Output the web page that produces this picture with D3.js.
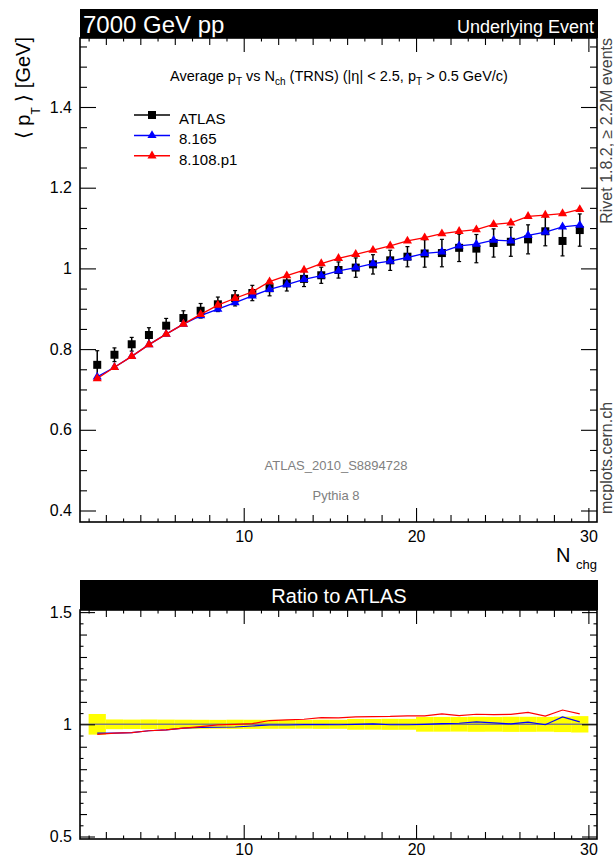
<!DOCTYPE html>
<html lang="en">
<head>
<meta charset="UTF-8">
<title>Average pT vs Nch (TRNS)</title>
<style>
  body { margin: 0; background: #fff; }
  svg { display: block; font-family: "Liberation Sans", Arial, sans-serif; }
</style>
</head>
<body>
<svg id="chart"></svg>
<script src="https://d3js.org/d3.v7.min.js"></script>
<script>
// bin centres in N_chg
var nch = [1.5, 2.5, 3.5, 4.5, 5.5, 6.5, 7.5, 8.5, 9.5, 10.5,
           11.5, 12.5, 13.5, 14.5, 15.5, 16.5, 17.5, 18.5, 19.5, 20.5,
           21.5, 22.5, 23.5, 24.5, 25.5, 26.5, 27.5, 28.5, 29.5];
// ATLAS data <pT> [GeV] and its error
var atlas = [0.761, 0.786, 0.812, 0.835, 0.858, 0.877, 0.895, 0.911, 0.926, 0.939,
             0.951, 0.963, 0.974, 0.983, 0.996, 1.002, 1.010, 1.020, 1.029, 1.037,
             1.038, 1.051, 1.049, 1.063, 1.066, 1.072, 1.092, 1.068, 1.095];
var atlasErr = [0.035, 0.017, 0.017, 0.018, 0.018, 0.018, 0.018, 0.018, 0.019, 0.019,
                0.019, 0.019, 0.019, 0.020, 0.020, 0.024, 0.024, 0.025, 0.025, 0.034,
                0.034, 0.034, 0.035, 0.035, 0.036, 0.036, 0.036, 0.037, 0.040];
// Pythia 8.165 (blue)
var py8165 = [0.731, 0.755, 0.782, 0.811, 0.837, 0.862, 0.883, 0.899, 0.915, 0.932,
              0.948, 0.960, 0.973, 0.982, 0.994, 1.002, 1.012, 1.018, 1.027, 1.037,
              1.041, 1.056, 1.060, 1.070, 1.068, 1.082, 1.090, 1.103, 1.107];
// Pythia 8.108.p1 (red)
var py8108 = [0.727, 0.755, 0.782, 0.811, 0.837, 0.862, 0.886, 0.909, 0.926, 0.942,
              0.967, 0.982, 0.996, 1.012, 1.025, 1.035, 1.045, 1.056, 1.068, 1.076,
              1.086, 1.092, 1.096, 1.109, 1.113, 1.129, 1.132, 1.136, 1.146];

var xTicks = [10, 20, 30];
var yTicks = [0.4, 0.6, 0.8, 1, 1.2, 1.4];
var ratioTicks = [0.5, 1, 1.5];
var legendNames = ['ATLAS', '8.165', '8.108.p1'];

var W = 614, H = 859;
var left = 80, right = 597;
var mainTop = 38, mainBottom = 522;
var ratioTop = 610, ratioBottom = 839;

var svg = d3.select('#chart').attr('width', W).attr('height', H);

var x = d3.scaleLinear().domain([0.5, 30.5]).range([left, right]);
var y = d3.scaleLinear().domain([0.3715, 1.571]).range([mainBottom, mainTop]);
var yr = d3.scaleLinear().domain([0.4889, 1.5094]).range([ratioBottom, ratioTop]);

// ---- helpers for ROOT-like inward ticks
function ticks(g, axisFn, scale, values, size, withLabels, pad) {
    var ax = axisFn(scale).tickValues(values).tickSize(size).tickPadding(pad || 0)
        .tickFormat(withLabels ? d3.format('~g') : '');
    g.call(ax);
    g.select('.domain').remove();
    g.attr('font-family', null).attr('font-size', 16);
    g.selectAll('line').attr('stroke', '#000').attr('stroke-width', 1.1);
    g.selectAll('text').attr('fill', '#000');
}

function frameAxes(yScale, yMajor, yMinor, yMid, top, bottom, majorLen, labelPad) {
    var xs = [[xTicks, 14, true], [[2,4,6,8,12,14,16,18,22,24,26,28], 7, false],
              [[1,3,5,7,9,11,13,15,17,19,21,23,25,27,29], 3.5, false]];
    xs.forEach(function (t) {
        ticks(svg.append('g').attr('transform', 'translate(0,' + bottom + ')'),
              d3.axisBottom, x, t[0], -t[1], t[2], labelPad);
        ticks(svg.append('g').attr('transform', 'translate(0,' + top + ')'),
              d3.axisTop, x, t[0], -t[1], false);
    });
    var ys = [[yMajor, majorLen, true], [yMinor, 7, false]];
    if (yMid) ys.push([yMid, 3.5, false]);
    ys.forEach(function (t) {
        ticks(svg.append('g').attr('transform', 'translate(' + left + ',0)'),
              d3.axisLeft, yScale, t[0], -t[1], t[2], 8);
        ticks(svg.append('g').attr('transform', 'translate(' + right + ',0)'),
              d3.axisRight, yScale, t[0], -t[1], false);
    });
    svg.append('rect').attr('x', left).attr('y', top)
        .attr('width', right - left).attr('height', bottom - top)
        .attr('fill', 'none').attr('stroke', '#000').attr('stroke-width', 1.6);
}

function sub(textSel, parts) {
    parts.forEach(function (p) {
        var t = textSel.append('tspan').text(p[0]);
        if (p[1]) t.attr('font-size', p[1]);
        if (p[2]) t.attr('dy', p[2]);
    });
}

// ---- main panel
svg.append('rect').attr('x', left).attr('y', 9).attr('width', right - left + 1).attr('height', 29)
    .attr('fill', '#000');
svg.append('text').attr('x', 83).attr('y', 32.5).attr('fill', '#fff').attr('font-size', 24)
    .text('7000 GeV pp');
svg.append('text').attr('x', 594).attr('y', 33).attr('fill', '#fff').attr('font-size', 18)
    .attr('text-anchor', 'end').text('Underlying Event');

var yMinorMain = [0.45, 0.5, 0.55, 0.65, 0.7, 0.75, 0.85, 0.9, 0.95, 1.05, 1.1, 1.15,
                  1.25, 1.3, 1.35, 1.45, 1.5, 1.55];
frameAxes(y, yTicks, yMinorMain, null, mainTop, mainBottom, 16, 9);

var title = svg.append('text').attr('x', 339).attr('y', 81).attr('text-anchor', 'middle')
    .attr('font-size', 14.5);
sub(title, [['Average p'], ['T', 10, 4], [' vs N', null, -4], ['ch', 10, 4],
            [' (TRNS) (|\u03b7| < 2.5, p', null, -4], ['T', 10, 4], [' > 0.5 GeV/c)', null, -4]]);

svg.append('text').attr('x', 336).attr('y', 470).attr('text-anchor', 'middle')
    .attr('font-size', 13).attr('fill', '#808080').text('ATLAS_2010_S8894728');
svg.append('text').attr('x', 336).attr('y', 500).attr('text-anchor', 'middle')
    .attr('font-size', 13).attr('fill', '#808080').text('Pythia 8');

// y title
var yt = svg.append('text').attr('transform', 'translate(30,37) rotate(-90)')
    .attr('text-anchor', 'end').attr('font-size', 20);
sub(yt, [['\u27e8 p'], ['T', 12, 10], [' \u27e9 [GeV]', null, -10]]);

// x title
svg.append('text').attr('x', 556).attr('y', 562).attr('font-size', 20).text('N');
svg.append('text').attr('x', 576).attr('y', 569).attr('font-size', 13).text('chg');

// side labels
svg.append('text').attr('transform', 'translate(612,38) rotate(-90)')
    .attr('text-anchor', 'end').attr('font-size', 16).attr('fill', '#444')
    .text('Rivet 1.8.2,  \u2265 2.2M events');
svg.append('text').attr('transform', 'translate(612,514) rotate(-90)')
    .attr('text-anchor', 'start').attr('font-size', 16).attr('fill', '#444')
    .text('mcplots.cern.ch');

// data points
var plot = svg.append('g');
var rows = nch.map(function (n, i) {
    return { n: n, d: atlas[i], e: atlasErr[i], b: py8165[i], r: py8108[i] };
});
var bars = plot.append('g').selectAll('g').data(rows).join('g');
bars.append('line').attr('x1', function (d) { return x(d.n); }).attr('x2', function (d) { return x(d.n); })
    .attr('y1', function (d) { return y(d.d - d.e); }).attr('y2', function (d) { return y(d.d + d.e); })
    .attr('stroke', '#000').attr('stroke-width', 1.5);
[-1, 1].forEach(function (s) {
    bars.append('line').attr('x1', function (d) { return x(d.n) - 2; }).attr('x2', function (d) { return x(d.n) + 2; })
        .attr('y1', function (d) { return y(d.d + s * d.e); }).attr('y2', function (d) { return y(d.d + s * d.e); })
        .attr('stroke', '#000').attr('stroke-width', 1.2);
});
plot.append('g').selectAll('path').data(rows).join('path')
    .attr('d', d3.symbol(d3.symbolSquare, 64))
    .attr('transform', function (d) { return 'translate(' + x(d.n) + ',' + y(d.d) + ')'; })
    .attr('fill', '#000');

function mcSeries(key, colour) {
    plot.append('path').datum(rows)
        .attr('d', d3.line().x(function (d) { return x(d.n); }).y(function (d) { return y(d[key]); }))
        .attr('fill', 'none').attr('stroke', colour).attr('stroke-width', 1.3);
    plot.append('g').selectAll('path').data(rows).join('path')
        .attr('d', d3.symbol(d3.symbolTriangle, 36))
        .attr('transform', function (d) { return 'translate(' + x(d.n) + ',' + y(d[key]) + ')'; })
        .attr('fill', colour);
}
mcSeries('b', '#0000ff');
mcSeries('r', '#ff0000');

// legend
var legColours = ['#000', '#0000ff', '#ff0000'];
var leg = svg.append('g').selectAll('g').data(legendNames).join('g')
    .attr('transform', function (d, i) { return 'translate(134,' + (115 + i * 20.4) + ')'; });
leg.append('line').attr('x1', 0).attr('x2', 36)
    .attr('stroke', function (d, i) { return legColours[i]; }).attr('stroke-width', 1.5);
leg.append('path')
    .attr('d', function (d, i) { return d3.symbol(i ? d3.symbolTriangle : d3.symbolSquare, i ? 36 : 64)(); })
    .attr('transform', 'translate(18,0)')
    .attr('fill', function (d, i) { return legColours[i]; });
leg.append('text').attr('x', 45).attr('y', 9).attr('font-size', 15).text(function (d) { return d; });

// ---- ratio panel
svg.append('rect').attr('x', left).attr('y', 580).attr('width', right - left + 1).attr('height', 30)
    .attr('fill', '#000');
svg.append('text').attr('x', 339).attr('y', 603).attr('fill', '#fff').attr('font-size', 20)
    .attr('text-anchor', 'middle').text('Ratio to ATLAS');

svg.append('g').selectAll('rect').data(rows).join('rect')
    .attr('x', function (d) { return x(d.n - 0.5); })
    .attr('width', function (d) { return x(d.n + 0.5) - x(d.n - 0.5); })
    .attr('y', function (d) { return yr(1 + d.e / d.d); })
    .attr('height', function (d) { return yr(1 - d.e / d.d) - yr(1 + d.e / d.d); })
    .attr('fill', '#ffff00');
svg.append('line').attr('x1', left).attr('x2', right).attr('y1', yr(1)).attr('y2', yr(1))
    .attr('stroke', '#7f7f7f').attr('stroke-width', 1.5);

[['b', '#0000ff'], ['r', '#ff0000']].forEach(function (s) {
    svg.append('path').datum(rows)
        .attr('d', d3.line().x(function (d) { return x(d.n); })
            .y(function (d) { return yr(d[s[0]] / d.d); }))
        .attr('fill', 'none').attr('stroke', s[1]).attr('stroke-width', 1.2);
});

var rMid = [0.6, 0.7, 0.8, 0.9, 1.1, 1.2, 1.3, 1.4];
var rSmall = [0.55, 0.65, 0.75, 0.85, 0.95, 1.05, 1.15, 1.25, 1.35, 1.45];
frameAxes(yr, ratioTicks, rMid, rSmall, ratioTop, ratioBottom, 15, 5);
</script>
</body>
</html>
